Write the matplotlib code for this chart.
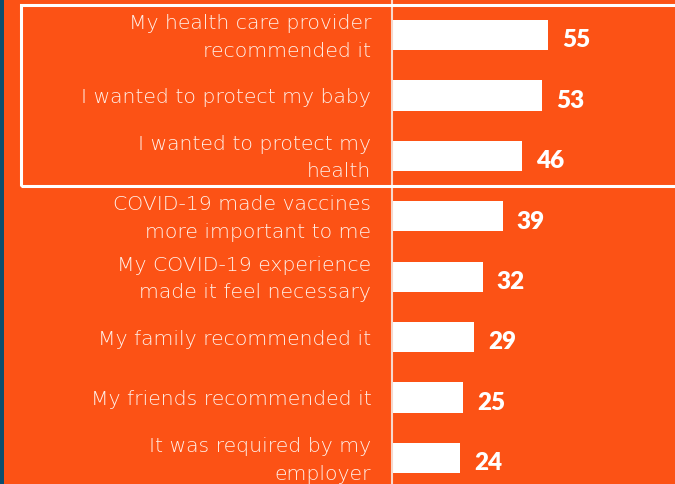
import matplotlib.pyplot as plt
from matplotlib.patches import Rectangle

# reasons given for getting vaccinated (%)
reasons = [
    "My health care provider\nrecommended it",
    "I wanted to protect my baby",
    "I wanted to protect my\nhealth",
    "COVID-19 made vaccines\nmore important to me",
    "My COVID-19 experience\nmade it feel necessary",
    "My family recommended it",
    "My friends recommended it",
    "It was required by my\nemployer",
]
percent = [55, 53, 46, 39, 32, 29, 25, 24]

orange = "#FC5215"
navy = "#0B4F6E"

fig = plt.figure(figsize=(6.75, 4.85), dpi=100)
fig.patch.set_facecolor(orange)

# left navy strip
fig.add_artist(Rectangle((0, 0), 4 / 675, 1, transform=fig.transFigure,
                         facecolor=navy, edgecolor="none"))

ax = fig.add_axes([392 / 675, 0, 283 / 675, 1])
ax.set_facecolor(orange)
pos = list(range(len(percent)))
ax.barh(pos, percent, height=0.5, color="white")
ax.set_xlim(0, 99.8)
ax.set_ylim(7.43, -0.596)

for y, v in zip(pos, percent):
    ax.text(v + 4.9, y + 0.07, str(v), va="center", ha="left", color="white",
            fontsize=17.5, fontweight="heavy", family="Lato")

for y, lab in zip(pos, reasons):
    ax.text(-7.3, y + 0.02, lab, va="center", ha="right", color="#FFF1EA",
            fontsize=14.7, family="DejaVu Sans", fontweight="light",
            linespacing=1.58, clip_on=False)

for s in ["top", "right", "bottom"]:
    ax.spines[s].set_visible(False)
ax.spines["left"].set_color("#F6D8CC")
ax.spines["left"].set_linewidth(1.5)
ax.set_xticks([])
ax.set_yticks([])

# highlight box around top three reasons
fig.add_artist(Rectangle((21 / 675, 1 - 186.5 / 485), 700 / 675, 180.5 / 485,
                         transform=fig.transFigure, facecolor="none",
                         edgecolor="white", linewidth=2.2, clip_on=False))

plt.savefig("out.png", dpi=100, facecolor=fig.get_facecolor())
plt.close()
